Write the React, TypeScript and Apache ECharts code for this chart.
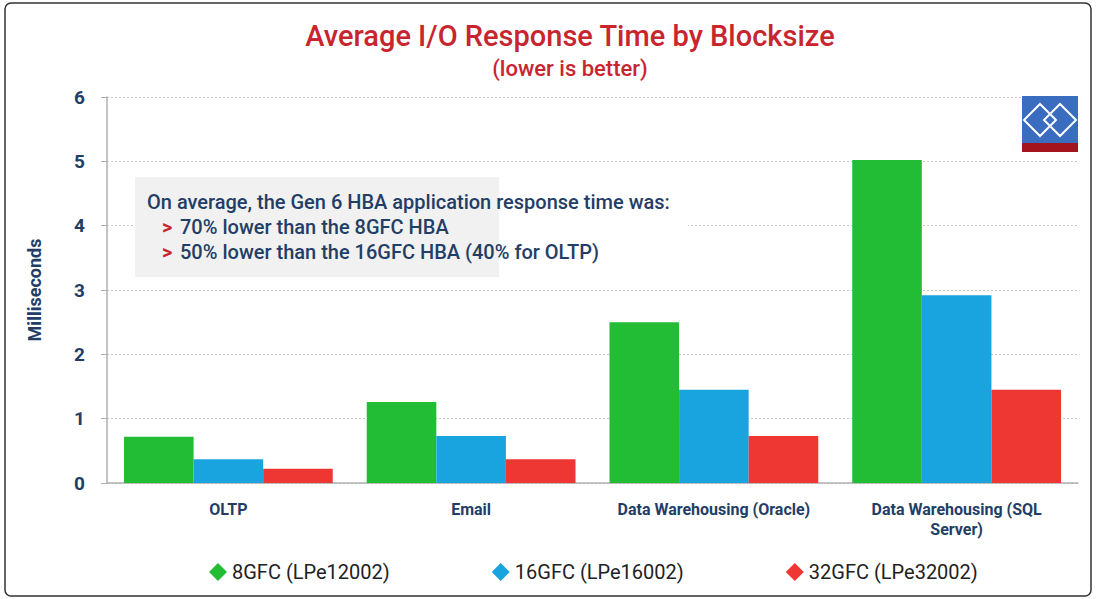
import React, { useEffect, useRef } from "react";
import * as echarts from "echarts";

const categories = ["OLTP", "Email", "Data Warehousing (Oracle)", "Data Warehousing (SQL\nServer)"];
const seriesNames = ["8GFC (LPe12002)", "16GFC (LPe16002)", "32GFC (LPe32002)"];
const gen8 = [0.72, 1.26, 2.5, 5.02];
const gen16 = [0.37, 0.73, 1.45, 2.92];
const gen32 = [0.22, 0.37, 0.73, 1.45];
const colors = ["#22bd35", "#1aa4df", "#ee3733"];
const NAVY = "#233e66";
const RED = "#c8252f";
const FONT = "Roboto, 'Liberation Sans', sans-serif";

export default function App() {
  const ref = useRef<HTMLDivElement>(null);
  useEffect(() => {
    const chart = echarts.init(ref.current!, null, { renderer: "svg" });
    const mk = (name: string, data: number[], color: string) => ({
      name,
      type: "bar",
      data,
      barGap: "0%",
      barCategoryGap: "14%",
      itemStyle: { color },
    });
    chart.setOption({
      animation: false,
      backgroundColor: "#ffffff",
      textStyle: { fontFamily: FONT },
      legend: {
        bottom: 12,
        left: 204,
        icon: "diamond",
        itemWidth: 18,
        itemHeight: 18,
        itemGap: 102,
        textStyle: { color: "#222", fontSize: 20, fontFamily: FONT },
        data: seriesNames,
      },
      grid: { left: 107, right: 19, top: 97, bottom: 116 },
      xAxis: {
        type: "category",
        data: categories,
        axisLine: { lineStyle: { color: "#b0b0b0", width: 1.5 } },
        axisTick: { show: false },
        axisLabel: {
          interval: 0,
          hideOverlap: false,
          color: NAVY,
          fontSize: 16,
          fontWeight: "bold",
          margin: 16,
          lineHeight: 20,
          fontFamily: FONT,
        },
      },
      yAxis: {
        type: "value",
        min: 0,
        max: 6,
        interval: 1,
        name: "Milliseconds",
        nameLocation: "middle",
        nameGap: 64,
        nameTextStyle: { color: NAVY, fontSize: 18, fontWeight: "bold", fontFamily: FONT },
        axisLine: { show: true, lineStyle: { color: "#b0b0b0", width: 1.5 } },
        axisTick: { show: true, length: 6, lineStyle: { color: "#b0b0b0" } },
        axisLabel: { color: NAVY, fontSize: 19, fontWeight: "bold", margin: 22, fontFamily: FONT },
        splitLine: { lineStyle: { color: "#c8c8c8", type: [2, 2] } },
      },
      series: [mk(seriesNames[0], gen8, colors[0]), mk(seriesNames[1], gen16, colors[1]), mk(seriesNames[2], gen32, colors[2])],
      graphic: [
        {
          type: "rect",
          shape: { x: 5, y: 3, width: 1086, height: 593, r: 6 },
          style: { fill: "none", stroke: "#333", lineWidth: 1.5 },
          z: 100,
        },
        {
          type: "text",
          x: 570,
          y: 36,
          z: 11,
          style: {
            text: "Average I/O Response Time by Blocksize",
            fill: RED,
            font: `500 29px ${FONT}`,
            textAlign: "center",
            textVerticalAlign: "middle",
          },
        },
        {
          type: "text",
          x: 570,
          y: 68,
          z: 11,
          style: {
            text: "(lower is better)",
            fill: RED,
            font: `500 22px ${FONT}`,
            textAlign: "center",
            textVerticalAlign: "middle",
          },
        },
        { type: "rect", shape: { x: 498, y: 190, width: 190, height: 75 }, style: { fill: "#ffffff" }, z: 10 },
        { type: "rect", shape: { x: 135, y: 177, width: 364, height: 100 }, style: { fill: "#f1f1f1" }, z: 10 },
        {
          type: "text",
          x: 147,
          y: 192,
          z: 11,
          style: { text: "On average, the Gen 6 HBA application response time was:", fill: NAVY, font: `500 20px ${FONT}` },
        },
        { type: "text", x: 162, y: 217, z: 11, style: { text: ">", fill: RED, font: `bold 20px ${FONT}` } },
        { type: "text", x: 180, y: 217, z: 11, style: { text: "70% lower than the 8GFC HBA", fill: NAVY, font: `500 20px ${FONT}` } },
        { type: "text", x: 162, y: 242, z: 11, style: { text: ">", fill: RED, font: `bold 20px ${FONT}` } },
        { type: "text", x: 180, y: 242, z: 11, style: { text: "50% lower than the 16GFC HBA (40% for OLTP)", fill: NAVY, font: `500 20px ${FONT}` } },
        // logo
        { type: "rect", shape: { x: 1022, y: 96, width: 56, height: 47 }, style: { fill: "#3a6cc0" }, z: 10 },
        { type: "rect", shape: { x: 1022, y: 143, width: 56, height: 9 }, style: { fill: "#a3141c" }, z: 10 },
        {
          type: "polygon",
          shape: { points: [[1040, 104], [1056, 120], [1040, 136], [1024, 120]] },
          style: { fill: "none", stroke: "#ffffff", lineWidth: 2 },
          z: 11,
        },
        {
          type: "polygon",
          shape: { points: [[1060, 104], [1076, 120], [1060, 136], [1044, 120]] },
          style: { fill: "none", stroke: "#ffffff", lineWidth: 2 },
          z: 11,
        },
      ],
    });
    return () => chart.dispose();
  }, []);
  return <div ref={ref} style={{ width: 1097, height: 599, position: "absolute", left: 0, top: 0 }} />;
}
